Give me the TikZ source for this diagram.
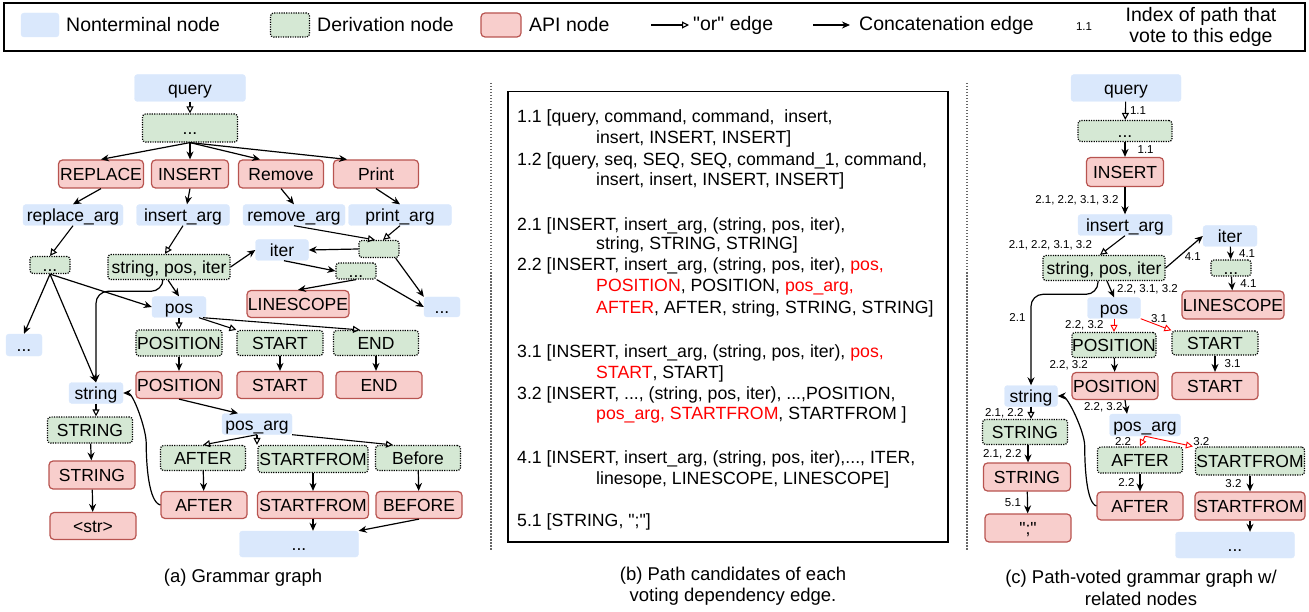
\documentclass[tikz,border=0pt]{standalone}
\usepackage{fontspec}
\setmainfont{Liberation Sans}
\newfontfamily\qfont{Liberation Sans}
\usetikzlibrary{positioning,arrows.meta}
\definecolor{ntfill}{HTML}{DAE8FC}
\definecolor{derfill}{HTML}{D5E8D4}
\definecolor{apifill}{HTML}{F8CECC}
\definecolor{apiline}{HTML}{B85450}
\newcommand{\nodetxt}{\fontsize{17.5}{20}\selectfont}
\newcommand{\votetxt}{\fontsize{11.5}{13}\selectfont}
\newcommand{\legtxt}{\fontsize{19.5}{21.5}\selectfont}
\newcommand{\pathtxt}{\fontsize{17.7}{21}\selectfont}
\newcommand{\captxt}{\fontsize{18.5}{21.5}\selectfont}
\newcommand{\redtxt}[1]{\textcolor{red}{#1}}
\newcommand{\qmark}{{\qfont"}}

\begin{document}
\begin{tikzpicture}[
    x=1pt, y=-1pt,
    nt/.style={fill=ntfill, draw=ntfill, rounded corners=3pt, inner sep=0pt, text height=15.8pt, text depth=3.7pt, font=\nodetxt},
    der/.style={fill=derfill, draw=black, line width=1.2pt, dash pattern=on 1.2pt off 1.2pt, rounded corners=3pt, inner sep=0pt, text height=15.8pt, text depth=3.7pt, font=\nodetxt},
    dersm/.style={fill=derfill, draw=black, line width=1.2pt, dash pattern=on 1.2pt off 1.2pt, rounded corners=3pt, inner sep=0pt, font=\nodetxt},
    api/.style={fill=apifill, draw=apiline, line width=1.2pt, rounded corners=4pt, inner sep=0pt, text height=15.8pt, text depth=3.7pt, font=\nodetxt},
    cat/.style={-{Stealth[length=8pt, width=7pt]}, line width=1.2pt},
    orr/.style={-{Triangle[open, length=7pt, width=7pt]}, line width=1.1pt},
    orrvote/.style={orr, draw=red, line width=0.9pt},
    lbl/.style={font=\votetxt, inner sep=0pt},
    ptxt/.style={anchor=base west, inner sep=0pt, font=\pathtxt},
    keytxt/.style={anchor=west, inner sep=0pt, font=\legtxt},
    capnode/.style={inner sep=0pt, align=center, font=\captxt}
]
\useasboundingbox (0,0) rectangle (1309,612);

% ========== LEGEND ==========
\draw[line width=1.5pt] (4,3) rectangle (1305,51);
\node[nt, minimum width=38, minimum height=24] (keynt) at (40,25) {};
\node[keytxt] (keynttxt) at (66,25) {Nonterminal node};
\node[der, minimum width=39, minimum height=24] (keyder) at (290,25) {};
\node[keytxt] (keydertxt) at (317,25) {Derivation node};
\node[api, minimum width=40, minimum height=24] (keyapi) at (501,25) {};
\node[keytxt] (keyapitxt) at (529,25) {API node};
\coordinate (keyors) at (651,25);
\coordinate (keyore) at (689,25);
\draw[orr] (keyors) -- (keyore);
\node[keytxt] (keyortxt) at (693,25) {\qmark or\qmark{} edge};
\coordinate (keycats) at (813,25);
\coordinate (keycate) at (850,25);
\draw[cat] (keycats) -- (keycate);
\node[keytxt] (keycattxt) at (859,25) {Concatenation edge};
\node[lbl] (keyidx) at (1084,27) {1.1};
\node[capnode, font=\legtxt] (keyidxtxt) at (1201,27) {Index of path that\\vote to this edge};

% ========== DIVIDERS ==========
\draw[black!60, line width=1.2pt, dash pattern=on 1.5pt off 1.5pt] (491,83) -- (491,550);
\draw[black!60, line width=1.2pt, dash pattern=on 1.5pt off 1.5pt] (967,83) -- (967,550);

% ========== (a) GRAMMAR GRAPH ==========
\node[nt, minimum width=111, minimum height=27] (query) at (190,88) {query};
\node[der, minimum width=95, minimum height=28] (dq) at (190,128) {...};
\node[api, minimum width=85, minimum height=28] (replace) at (101,174) {REPLACE};
\node[api, minimum width=77, minimum height=28] (insert) at (190,174) {INSERT};
\node[api, minimum width=85, minimum height=28] (remove) at (281,174) {Remove};
\node[api, minimum width=85, minimum height=28] (print) at (376,174) {Print};
\node[nt, minimum width=100, minimum height=21] (replarg) at (73,215) {replace\_arg};
\node[nt, minimum width=93, minimum height=21] (insarg) at (183,215) {insert\_arg};
\node[nt, minimum width=102, minimum height=21] (remarg) at (294,215) {remove\_arg};
\node[nt, minimum width=103, minimum height=21] (prarg) at (400,215) {print\_arg};
\node[dersm, minimum width=40, minimum height=17] (dpr) at (379,249) {};
\node[nt, minimum width=53, minimum height=21] (iter) at (282,250) {iter};
\node[dersm, minimum width=40, minimum height=17] (drep) at (50,265) {\raisebox{-14pt}{...}};
\node[der, minimum width=122, minimum height=25] (spi) at (169,267) {string, pos, iter};
\node[dersm, minimum width=40, minimum height=16] (dit) at (356,271) {\raisebox{-14pt}{...}};
\node[api, minimum width=102, minimum height=27] (linescope) at (298,304) {LINESCOPE};
\node[nt, minimum width=36, minimum height=20] (dotsr) at (442,307) {...};
\node[nt, minimum width=36, minimum height=22] (dotsl) at (24,345) {...};
\node[nt, minimum width=54, minimum height=21] (pos) at (179,307) {pos};
\node[der, minimum width=86, minimum height=26] (posd) at (179,343) {POSITION};
\node[der, minimum width=86, minimum height=25] (startd) at (280,343) {START};
\node[der, minimum width=85, minimum height=25] (endd) at (376,343) {END};
\node[api, minimum width=86, minimum height=27] (posa) at (179,385) {POSITION};
\node[api, minimum width=86, minimum height=27] (starta) at (280,385) {START};
\node[api, minimum width=86, minimum height=27] (enda) at (379,385) {END};
\node[nt, minimum width=54, minimum height=21] (string) at (96,393) {string};
\node[nt, minimum width=70, minimum height=21] (posarg) at (257,424) {pos\_arg};
\node[der, minimum width=85, minimum height=26] (stringd) at (90,430) {STRING};
\node[der, minimum width=85, minimum height=25] (afterd) at (203,458) {AFTER};
\node[der, minimum width=110, minimum height=27] (sfd) at (313,459) {STARTFROM};
\node[der, minimum width=85, minimum height=25] (befored) at (418,458) {Before};
\node[api, minimum width=86, minimum height=28] (stringa) at (92,475) {STRING};
\node[api, minimum width=86, minimum height=27] (aftera) at (204,505) {AFTER};
\node[api, minimum width=111, minimum height=27] (sfa) at (313,505) {STARTFROM};
\node[api, minimum width=86, minimum height=27] (beforea) at (419,505) {BEFORE};
\node[api, minimum width=86, minimum height=27] (str) at (93,526) {<str>};
\node[nt, minimum width=119, minimum height=26] (dotsb) at (299,544) {...};

\draw[orr] (query) -- (dq);
\draw[cat] (dq.south) -- (replace.north);
\draw[cat] (dq.south) -- (insert.north);
\draw[cat] (dq.south) -- ([xshift=-21pt]remove.north);
\draw[cat] (dq.south) -- ([xshift=-29pt]print.north);
\draw[cat] (replace.south) -- (replarg.north);
\draw[cat] (insert.south) -- ([xshift=4pt]insarg.north);
\draw[cat] (remove.south) -- (remarg.north);
\draw[cat] (print.south) -- (prarg.north);
\draw[orr] (replarg.south) -- (drep.north);
\draw[orr] (insarg.south) -- ([xshift=-4pt]spi.north);
\draw[orr] (remarg.south) -- ([xshift=-4pt]dpr.north);
\draw[orr] (prarg.south) -- ([xshift=4pt]dpr.north);
\draw[cat] (dpr.west) -- (iter.east);
\draw[cat] (spi.east) -- (iter.west);
\draw[cat] ([xshift=2pt]iter.south) -- (dit.west);
\draw[cat] ([xshift=-4pt]dpr.south east) -- (dotsr.north west);
\draw[cat] (dit.south east) -- (dotsr.west);
\draw[cat] (dit.south) -- (linescope.north);
\draw[cat] (drep.south) -- (dotsl.north);
\draw[cat] (drep.south) -- (pos.west);
\draw[cat] (drep.south) -- (string.north);
\draw[cat] ([xshift=-1pt]spi.south) -- (pos.north);
\draw[cat, rounded corners=12pt] ([xshift=-6pt]spi.south) |- ([yshift=91pt]string.north) -- (string.north);
\draw[orr] (pos.south) -- (posd.north);
\draw[orr] ([xshift=20pt]pos.south) -- (startd.north west);
\draw[orr] ([xshift=24pt]pos.south) -- ([xshift=-16pt]endd.north);
\draw[cat] (posd) -- (posa);
\draw[cat] (startd) -- (starta);
\draw[cat] (endd.south) -- (endd.south |- enda.north);
\draw[cat] (posa.south) -- ([xshift=-19pt]posarg.north);
\draw[orr] (string.south) -- (string.south |- stringd.north);
\draw[cat] (stringd) -- (stringa);
\draw[cat] (stringa) -- (str);
\draw[orr] (posarg.south) -- (afterd.north);
\draw[orr] (posarg.south) -- (posarg.south |- sfd.north);
\draw[orr] (posarg.south east) -- ([xshift=-25pt]befored.north);
\draw[cat] (afterd) -- (aftera);
\draw[cat] (sfd) -- (sfa);
\draw[cat] (befored) -- (beforea);
\draw[cat] (sfa.south) -- (sfa.south |- dotsb.north);
\draw[cat] (beforea.south) -- (dotsb.north east);
\draw[cat] (aftera.west) .. controls +(-12,-3) and +(0,20) .. ([xshift=23pt,yshift=-50pt]string.east) .. controls +(0,-14) and +(10,0) .. (string.east);

\node[capnode] (capa) at (243,578) {(a) Grammar graph};

% ========== (b) PATH CANDIDATES ==========
\node[draw, line width=1.5pt, minimum width=440, minimum height=450, anchor=north west, inner sep=0pt] (pathbox) at (507,91) {};
\node[ptxt] (p11a) at (517,123) {1.1 [query, command, command,\ \ insert,};
\node[ptxt] (p11b) at (596,144) {insert, INSERT, INSERT]};
\node[ptxt] (p12a) at (517,166) {1.2 [query, seq, SEQ, SEQ, command\_1, command,};
\node[ptxt] (p12b) at (596,186) {insert, insert, INSERT, INSERT]};
\node[ptxt] (p21a) at (517,231) {2.1 [INSERT, insert\_arg, (string, pos, iter),};
\node[ptxt] (p21b) at (596,250) {string, STRING, STRING]};
\node[ptxt] (p22a) at (517,271) {2.2 [INSERT, insert\_arg, (string, pos, iter), \redtxt{pos,}};
\node[ptxt] (p22b) at (596,291) {\redtxt{POSITION}, POSITION, \redtxt{pos\_arg,}};
\node[ptxt] (p22c) at (596,313) {\redtxt{AFTER}, AFTER, string, STRING, STRING]};
\node[ptxt] (p31a) at (517,357) {3.1 [INSERT, insert\_arg, (string, pos, iter), \redtxt{pos,}};
\node[ptxt] (p31b) at (596,378) {\redtxt{START}, START]};
\node[ptxt] (p32a) at (517,399) {3.2 [INSERT, ..., (string, pos, iter), ...,POSITION,};
\node[ptxt] (p32b) at (596,419) {\redtxt{pos\_arg, STARTFROM}, STARTFROM ]};
\node[ptxt] (p41a) at (517,463) {4.1 [INSERT, insert\_arg, (string, pos, iter),..., ITER,};
\node[ptxt] (p41b) at (596,484) {linesope, LINESCOPE, LINESCOPE]};
\node[ptxt] (p51a) at (517,526) {5.1 [STRING, \qmark;\qmark]};

\node[capnode] (capb) at (733,586) {(b) Path candidates of each\\voting dependency edge.};

% ========== (c) PATH-VOTED GRAPH ==========
\node[nt, minimum width=110, minimum height=27] (queryc) at (1126,88) {query};
\node[der, minimum width=94, minimum height=21] (dc) at (1125,131) {...};
\node[api, minimum width=77, minimum height=29] (insertc) at (1125,172) {INSERT};
\node[nt, minimum width=94, minimum height=21] (insargc) at (1125,225) {insert\_arg};
\node[der, minimum width=122, minimum height=25] (spic) at (1104,268) {string, pos, iter};
\node[nt, minimum width=54, minimum height=21] (iterc) at (1230,236) {iter};
\node[dersm, minimum width=40, minimum height=16] (ditc) at (1231,268) {\raisebox{-14pt}{...}};
\node[api, minimum width=102, minimum height=28] (linescopec) at (1233,305) {LINESCOPE};
\node[nt, minimum width=53, minimum height=21] (posc) at (1114,308) {pos};
\node[der, minimum width=84, minimum height=25] (posdc) at (1114,345) {POSITION};
\node[der, minimum width=86, minimum height=24] (startdc) at (1215,343) {START};
\node[api, minimum width=86, minimum height=27] (posac) at (1115,386) {POSITION};
\node[api, minimum width=86, minimum height=27] (startac) at (1215,386) {START};
\node[nt, minimum width=71, minimum height=22] (posargc) at (1145,425) {pos\_arg};
\node[nt, minimum width=53, minimum height=21] (stringc) at (1031,396) {string};
\node[der, minimum width=85, minimum height=25] (stringdc) at (1025,432) {STRING};
\node[api, minimum width=87, minimum height=28] (stringac) at (1027,477) {STRING};
\node[api, minimum width=86, minimum height=28] (semic) at (1028,528) {\qmark;\qmark};
\node[der, minimum width=85, minimum height=26] (afterdc) at (1140,460) {AFTER};
\node[der, minimum width=109, minimum height=28] (sfdc) at (1250,461) {STARTFROM};
\node[api, minimum width=86, minimum height=28] (afterac) at (1140,506) {AFTER};
\node[api, minimum width=110, minimum height=28] (sfac) at (1250,506) {STARTFROM};
\node[nt, minimum width=119, minimum height=26] (dotsc) at (1235,545) {...};

\draw[orr] (queryc) -- node[lbl, right=4pt] (v1) {1.1} (dc);
\draw[cat] (dc) -- node[lbl, right=12pt] (v2) {1.1} (insertc);
\draw[cat] (insertc) -- node[lbl, left=6pt] (v3) {2.1, 2.2, 3.1, 3.2} (insargc);
\draw[orr] (insargc.south) -- node[lbl, left=20pt] (v4) {2.1, 2.2, 3.1, 3.2} ([xshift=-4pt]spic.north);
\draw[cat] (spic.east) -- node[lbl, anchor=north west] (v5) {4.1} (iterc.west);
\draw[cat] (iterc) -- node[lbl, right=8pt] (v6) {4.1} (ditc);
\draw[cat] (ditc) -- node[lbl, right=8pt] (v7) {4.1} (linescopec);
\draw[cat] ([xshift=3pt]spic.south) -- node[lbl, right=6pt] (v8) {2.2, 3.1, 3.2} (posc.north);
\draw[cat, rounded corners=12pt] ([xshift=-6pt]spic.south) |- ([yshift=91pt]stringc.north) -- node[lbl, pos=0.25, left=5pt] (v9) {2.1} (stringc.north);
\draw[orrvote] (posc) -- node[lbl, left=10pt] (v10) {2.2, 3.2} (posdc);
\draw[orrvote] (posc.south east) -- node[lbl, above=1pt, xshift=3pt] (v11) {3.1} (startdc.north west);
\draw[cat] (posdc) -- node[lbl, left=26pt] (v12) {2.2, 3.2} (posac);
\draw[cat] (startdc) -- node[lbl, right=9pt] (v13) {3.1} (startac);
\draw[cat] ([xshift=10pt]posac.south) -- node[lbl, left=3pt] (v14) {2.2, 3.2} ([xshift=-18pt]posargc.north);
\draw[orr] (stringc.south) -- node[lbl, left=7pt] (v15) {2.1, 2.2} (stringc.south |- stringdc.north);
\draw[cat] ([xshift=3pt]stringdc.south) -- node[lbl, left=6pt] (v16) {2.1, 2.2} ([xshift=1pt]stringac.north);
\draw[cat] (stringac) -- node[lbl, left=6pt] (v17) {5.1} (semic);
\draw[orrvote] (posargc.south) -- node[lbl, left=11pt] (v18) {2.2} (afterdc.north);
\draw[orrvote] (posargc.south) -- node[lbl, at end, anchor=south west] (v19) {3.2} ([xshift=-2pt]sfdc.north west);
\draw[cat] (afterdc) -- node[lbl, left=5pt] (v20) {2.2} (afterac);
\draw[cat] (sfdc) -- node[lbl, left=8pt] (v21) {3.2} (sfac);
\draw[cat] (sfac.south) -- (sfac.south |- dotsc.north);
\draw[cat] (afterac.west) .. controls +(-10,-3) and +(0,20) .. ([xshift=27pt,yshift=-50pt]stringc.east) .. controls +(0,-14) and +(10,0) .. (stringc.east);

\node[capnode] (capc) at (1141,588) {(c) Path-voted grammar graph w/\\related nodes};

\end{tikzpicture}
\end{document}
